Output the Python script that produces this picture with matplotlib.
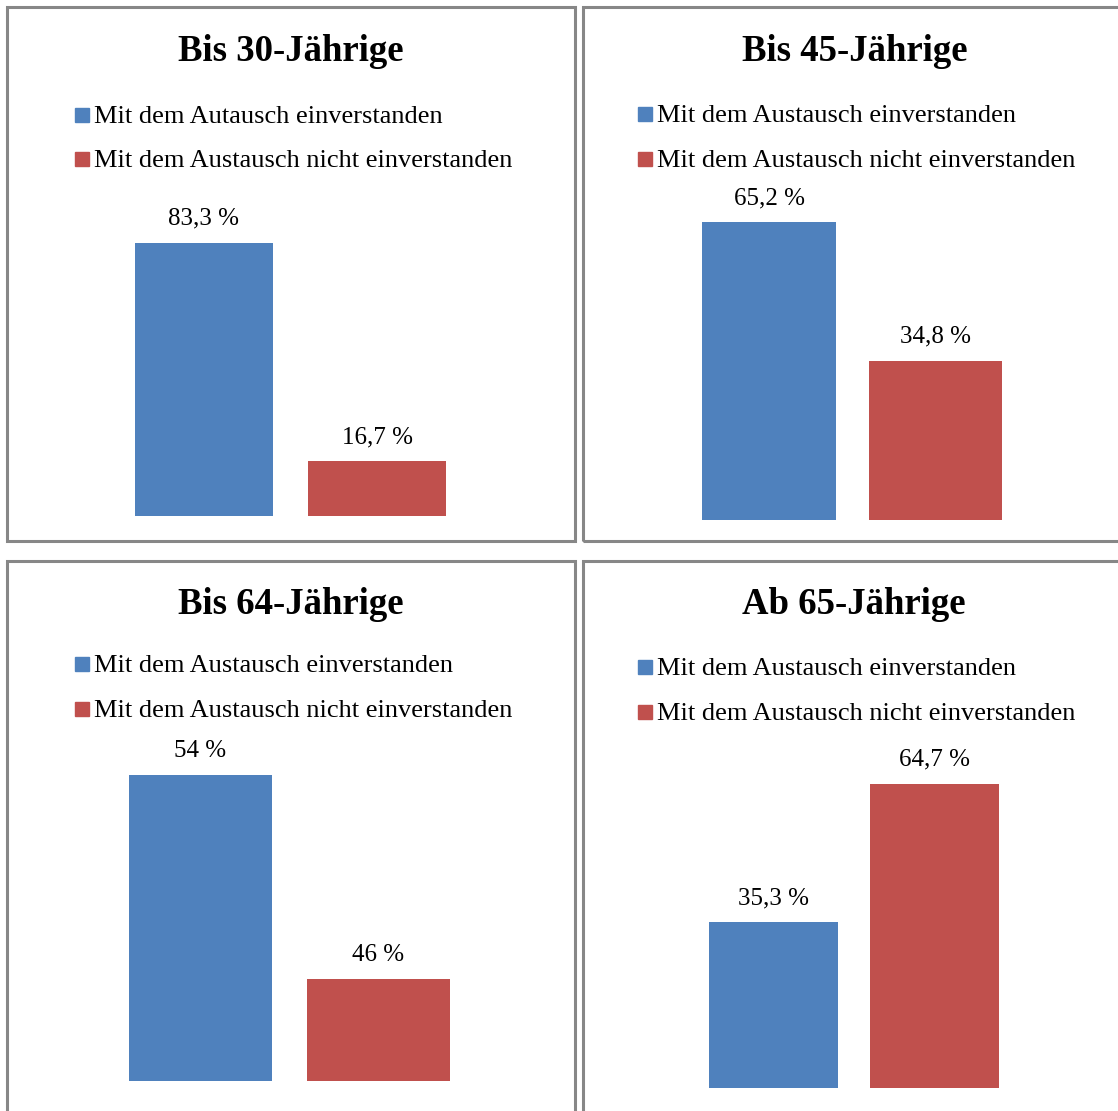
import matplotlib
matplotlib.use("Agg")
import matplotlib.pyplot as plt
from matplotlib.patches import Rectangle

plt.rcParams['font.family'] = ['Liberation Serif', 'DejaVu Serif']

W, H = 1118, 1111

titles = ["Bis 30-Jährige", "Bis 45-Jährige", "Bis 64-Jährige", "Ab 65-Jährige"]
legend_yes = ["Mit dem Autausch einverstanden", "Mit dem Austausch einverstanden",
              "Mit dem Austausch einverstanden", "Mit dem Austausch einverstanden"]
legend_no = "Mit dem Austausch nicht einverstanden"
yes_vals = [83.3, 65.2, 54, 35.3]
no_vals = [16.7, 34.8, 46, 64.7]
yes_labels = ["83,3 %", "65,2 %", "54 %", "35,3 %"]
no_labels = ["16,7 %", "34,8 %", "46 %", "64,7 %"]
y_limits = [(0, 100), (0, 70), (42, 56), (0, 70)]

blue = "#4F81BD"
red = "#C0504D"

# pixel layout of each panel: frame, title, legend, plot area
frames = [(7, 7, 575, 541), (583, 7, 1125, 541), (7, 561, 575, 1120), (583, 561, 1125, 1120)]
title_pos = [(291, 61), (855, 61), (291, 614), (854, 614)]
legend_pos = [(75, 123, 167), (638, 122, 167), (75, 672, 717), (638, 675, 720)]
axes_px = [(117.5, 463.5, 516), (685.75, 1018.75, 520), (111.5, 467.5, 1081), (693, 1015, 1088)]
px_per_unit = [3.28, 4.57, 25.5, 4.70]


def fx(x):
    return x / W


def fy(y):
    return 1 - y / H


fig = plt.figure(figsize=(W / 100, H / 100), dpi=100)

for i in range(4):
    x0, y0, x1, y1 = frames[i]
    fig.patches.append(Rectangle((fx(x0), fy(y1)), fx(x1 - x0), (y1 - y0) / H,
                                 transform=fig.transFigure, fill=False,
                                 edgecolor="#878787", linewidth=2.2))

    tx, ty = title_pos[i]
    fig.text(fx(tx), fy(ty), titles[i], ha="center", va="baseline",
             fontsize=26.5, fontweight="bold")

    lx, b1, b2 = legend_pos[i]
    for base, col, txt in [(b1, blue, legend_yes[i]), (b2, red, legend_no)]:
        fig.patches.append(Rectangle((fx(lx), fy(base - 1)), fx(14), 14 / H,
                                     transform=fig.transFigure, color=col))
        fig.text(fx(lx + 19), fy(base), txt, ha="left", va="baseline", fontsize=19)

    ax_l, ax_r, ax_b = axes_px[i]
    lo, hi = y_limits[i]
    h = (hi - lo) * px_per_unit[i]
    ax = fig.add_axes([fx(ax_l), fy(ax_b), fx(ax_r - ax_l), h / H])
    bars = ax.bar([0, 1], [yes_vals[i] - lo, no_vals[i] - lo], bottom=lo,
                  width=0.8, color=[blue, red])
    ax.set_xlim(-0.5, 1.5)
    ax.set_ylim(lo, hi)
    ax.axis("off")
    for bar, lab in zip(bars, [yes_labels[i], no_labels[i]]):
        ax.annotate(lab, (bar.get_x() + bar.get_width() / 2, bar.get_y() + bar.get_height()),
                    xytext=(0, 13), textcoords="offset points",
                    ha="center", va="baseline", fontsize=18, annotation_clip=False)

fig.savefig("out.png", dpi=100)
